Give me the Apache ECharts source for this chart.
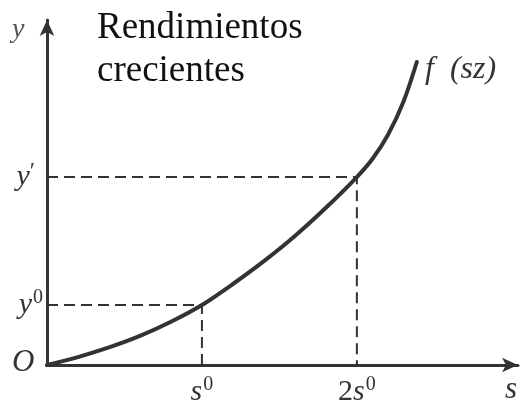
<!DOCTYPE html>
<html>
<head>
<meta charset="utf-8">
<script src="https://cdn.jsdelivr.net/npm/echarts@6/dist/echarts.min.js"></script>
<style>
  html, body { margin: 0; padding: 0; background: #fff; }
  #chart { width: 521px; height: 411px; }
</style>
</head>
<body>
<div id="chart"></div>
<script>
// curve f(sz) (s in units of s0, y in units of y0)
const curveS = [0, 0.2, 0.4, 0.6, 0.8, 1, 1.2, 1.4, 1.6, 1.8, 2, 2.1, 2.2, 2.3, 2.387];
const curveY = [0, 0.132, 0.292, 0.484, 0.72, 1, 1.35, 1.73, 2.15, 2.62, 3.133, 3.433, 3.833, 4.383, 5.05];

const s0 = 1;
const s1 = 2;      // 2s0
const y0 = 1;
const y1 = 3.133;  // y'

const xTicks = [s0, s1];
const xTickLabels = ['{i|s}{sup|0}', '{n|2}{i|s}{sup|0}'];
const yTicks = [y0, y1];
const yTickLabels = ['{i|y}{sup|0}', '{i|y}{pr|′}'];

const ink = '#333';
const serif = '"Liberation Serif"';

const chart = echarts.init(document.getElementById('chart'));

const richLabel = {
  i: { fontFamily: serif, fontStyle: 'italic', fontSize: 30, color: ink },
  n: { fontFamily: serif, fontSize: 30, color: ink },
  sup: { fontFamily: serif, fontSize: 20, color: ink, padding: [0, 0, 14, 1] },
  pr: { fontFamily: serif, fontSize: 24, color: ink, padding: [0, 8, 10, 0] }
};

function txt(left, top, text, size, italic, fill) {
  return {
    type: 'text', left: left, top: top,
    style: { text: text, fontFamily: serif, fontSize: size, fontStyle: italic ? 'italic' : 'normal', fill: fill || ink }
  };
}

chart.setOption({
  animation: false,
  grid: { left: 47, right: 3, top: 20, bottom: 46 },
  xAxis: {
    type: 'value', min: 0, max: 3.04,
    axisLine: { show: true, symbol: ['none', 'arrow'], symbolSize: [11, 16], lineStyle: { color: ink, width: 3 } },
    axisTick: { show: false },
    splitLine: { show: false },
    axisLabel: {
      customValues: xTicks,
      margin: 10,
      formatter: v => xTickLabels[xTicks.indexOf(v)],
      rich: richLabel
    }
  },
  yAxis: {
    type: 'value', min: 0, max: 5.75,
    axisLine: { show: true, symbol: ['none', 'arrow'], symbolSize: [11, 16], lineStyle: { color: ink, width: 3 } },
    axisTick: { show: false },
    splitLine: { show: false },
    axisLabel: {
      customValues: yTicks,
      margin: 4,
      formatter: v => yTickLabels[yTicks.indexOf(v)],
      rich: richLabel
    }
  },
  graphic: [
    {
      type: 'text', left: 97, top: 7,
      style: { text: 'Rendimientos\ncrecientes', fontFamily: serif, fontSize: 37, fill: '#111', lineHeight: 43 }
    },
    txt(12, 16, 'y', 28, true, '#555'),
    txt(12, 347, 'O', 31, true),
    txt(505, 374, 's', 31, true),
    txt(425, 54, 'f  (sz)', 32, true)
  ],
  series: [
    {
      type: 'line',
      data: [[0, y0], [s0, y0], [s0, 0]],
      symbol: 'none',
      lineStyle: { color: ink, width: 2, type: [11, 6] },
      z: 1
    },
    {
      type: 'line',
      data: [[0, y1], [s1, y1], [s1, 0]],
      symbol: 'none',
      lineStyle: { color: ink, width: 2, type: [11, 6] },
      z: 1
    },
    {
      type: 'line',
      data: curveS.map((s, k) => [s, curveY[k]]),
      smooth: 0.3,
      symbol: 'none',
      lineStyle: { color: ink, width: 4, cap: 'round' },
      z: 3
    }
  ]
});
</script>
</body>
</html>
